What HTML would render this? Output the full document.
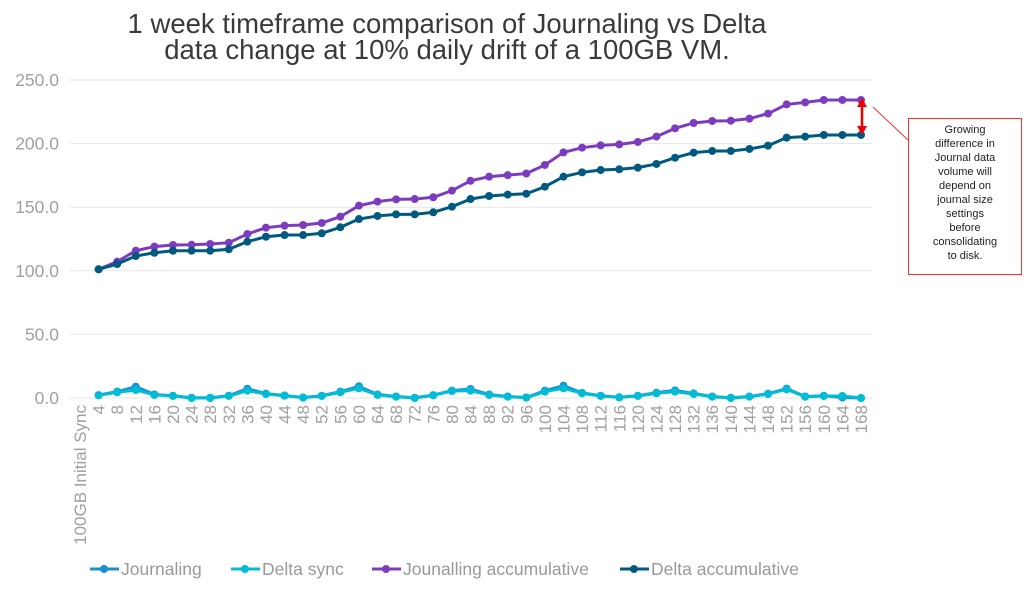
<!DOCTYPE html>
<html><head><meta charset="utf-8"><style>
body{margin:0;background:#fff;width:1024px;height:591px;overflow:hidden;font-family:"Liberation Sans",sans-serif}
svg{display:block}
</style></head><body>
<svg id="chart" width="1024" height="591">
<text x="447" y="33" text-anchor="middle" font-size="27.5" fill="#3a3a3a">1 week timeframe comparison of Journaling vs Delta</text>
<text x="447" y="59" text-anchor="middle" font-size="27.5" fill="#3a3a3a">data change at 10% daily drift of a 100GB VM.</text>
<g id="grid"></g><g id="ylabels"></g><g id="xlabels"></g><g id="series"></g>
<line x1="862" y1="101" x2="862" y2="131" stroke="#e00" stroke-width="2.5"/>
<path d="M857,107 L862,98 L867,107 Z M857,126 L862,135 L867,126 Z" fill="#e00"/>
<line x1="873" y1="107" x2="908" y2="140" stroke="#e33" stroke-width="1"/>
<rect x="908.5" y="118.5" width="113" height="156" fill="#fff" stroke="#e33"/>
<g font-size="11" fill="#222" text-anchor="middle">
<text x="965" y="133">Growing</text><text x="965" y="147">difference in</text><text x="965" y="161">Journal data</text><text x="965" y="175">volume will</text><text x="965" y="189">depend on</text><text x="965" y="203">journal size</text><text x="965" y="217">settings</text><text x="965" y="231">before</text><text x="965" y="245">consolidating</text><text x="965" y="259">to disk.</text></g>
<g id="legend"></g>
</svg>
<script>
const categories=["100GB Initial Sync"];for(let h=4;h<=168;h+=4)categories.push(String(h));
const yTicks=[0,50,100,150,200,250];
// values for categories 4..168 (initial sync has no point)
const journaling=[2.3,5,8.9,2.8,1.8,0.2,0.2,1.8,7.3,3.4,2,0.4,1.8,5,9.2,2.8,1.2,0.2,2.3,5.8,7.1,2.8,1.2,0.4,5.8,9.7,4,1.8,0.6,1.8,4.2,6,3.6,1.2,0.2,1.2,3.4,7.4,1.2,1.8,0.4,0];
const deltaSync=[2.1,4.5,6.3,2.4,1.6,0,0,1.6,5.8,3.1,1.8,0.3,1.6,4.5,7.6,2.4,1,0,2.1,5.5,5.8,2.4,1,0.3,5,7.6,3.7,1.6,0.5,1.6,3.7,5,3.1,1,0,1,3.1,6.8,1,1.6,1.6,0];
const journalAcc=[101.2,107.2,115.8,119,120.3,120.5,121.1,122.1,128.9,133.9,135.5,136,137.6,142.6,151.2,154.4,156.2,156.4,157.8,163,170.8,174,175.2,176.5,183.2,193.1,196.8,198.6,199.4,201.3,205.5,212,216.2,217.8,218,219.6,223.6,230.8,232.4,234.3,234.3,234.3];
const deltaAcc=[101.2,105.3,111.6,114.2,115.8,115.8,115.8,116.9,122.9,126.8,128.1,128.1,129.5,134.2,140.7,143.1,144.4,144.4,146,150.4,156.4,158.8,159.9,160.6,166.1,174,177.4,179.2,179.8,181.1,184,188.9,192.9,194.2,194.2,195.8,198.4,204.7,205.5,206.8,206.8,206.8];
const NS="http://www.w3.org/2000/svg";
const X0=80,X1=861,Y0=398,Y1=80;
const xs=i=>X0+(X1-X0)*i/(categories.length-1);
const ys=v=>Y0-(Y0-Y1)*v/250;
function mk(t,a,p){const e=document.createElementNS(NS,t);for(const k in a)e.setAttribute(k,a[k]);p.appendChild(e);return e;}
const grid=document.getElementById('grid'),yl=document.getElementById('ylabels'),xl=document.getElementById('xlabels'),sg=document.getElementById('series'),lg=document.getElementById('legend');
yTicks.forEach(v=>{
 const l=mk('line',{x1:70,x2:872,y1:ys(v),y2:ys(v),stroke:'#e6e6e6','stroke-width':1},grid);
 
 
 const t=mk('text',{x:59,y:ys(v)+6,'text-anchor':'end','font-size':17.5,fill:'#a0a0a0'},yl);
 t.textContent=v.toFixed(1);
 
 
});
categories.forEach((c,i)=>{
 const t=mk('text',{transform:`translate(${xs(i)+6},405) rotate(-90)`,'text-anchor':'end','font-size':17,fill:'#a0a0a0'},xl);
 t.textContent=c;
 
 
});
const series=[[journaling,'#1a8fd6','Journaling'],[deltaSync,'#00bcd4','Delta sync'],[journalAcc,'#7d3cc0','Jounalling accumulative'],[deltaAcc,'#005a80','Delta accumulative']];
series.forEach(([d,col,name],si)=>{
 const g=mk('g',{},sg);
 
 
 mk('polyline',{points:d.map((v,i)=>xs(i+1)+','+ys(v)).join(' '),fill:'none',stroke:col,'stroke-width':3},g);
 d.forEach((v,i)=>{const c=mk('circle',{cx:xs(i+1),cy:ys(v),r:4,fill:col},g);
  
  });
 const lx=[90,231,372,620][si];
 const le=mk('g',{},lg);
 
 
 mk('line',{x1:lx,x2:lx+29,y1:569,y2:569,stroke:col,'stroke-width':3},le);
 mk('circle',{cx:lx+14,cy:569,r:4,fill:col},le);
 const t=mk('text',{x:lx+31,y:575,'font-size':17.5,fill:'#999'},le);t.textContent=name;
});
</script>
</body></html>
